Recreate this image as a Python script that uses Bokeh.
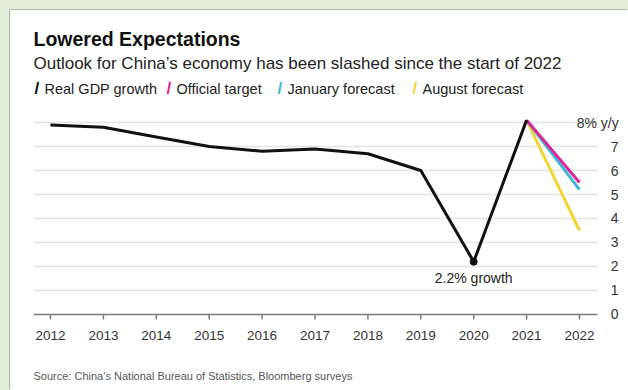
from bokeh.plotting import figure
from bokeh.models import Label, Range1d
from bokeh.core.properties import value
from bokeh.embed import file_html
from bokeh.resources import INLINE

# ---- data ----
years = [2012, 2013, 2014, 2015, 2016, 2017, 2018, 2019, 2020, 2021]
real_gdp = [7.9, 7.8, 7.4, 7.0, 6.8, 6.9, 6.7, 6.0, 2.2, 8.1]
forecast_years = [2021, 2022]
official_target = [8.1, 5.5]
january_forecast = [8.1, 5.2]
august_forecast = [8.1, 3.5]
x_ticks = [2012, 2013, 2014, 2015, 2016, 2017, 2018, 2019, 2020, 2021, 2022]
x_tick_labels = ["2012", "2013", "2014", "2015", "2016", "2017", "2018", "2019", "2020", "2021", "2022"]
y_ticks = [0, 1, 2, 3, 4, 5, 6, 7, 8]
y_tick_labels = ["0", "1", "2", "3", "4", "5", "6", "7", "8% y/y"]
annot_year = 2020
annot_value = 2.2
annot_text = "2.2% growth"

FONT = "Liberation Sans"
BLACK = "#111111"
PINK = "#de2596"
CYAN = "#3db5dc"
YELLOW = "#f0d535"

# figure occupies page x 10..628, y 10..390; frame = whole figure
W, H = 618, 380
PAGE_X0, PAGE_Y_BOTTOM = 10, 390
p = figure(width=W, height=H, output_backend="svg", toolbar_location=None,
           x_range=Range1d(2011.244, 2022.926), y_range=Range1d(-3.1667, 12.6667),
           x_axis_location=None, y_axis_location=None,
           min_border=0, outline_line_color=None, background_fill_color="white",
           border_fill_color="white", margin=(10, 0, 0, 10),
           styles={"box-shadow": "-1px -1px 0 #b3bcae"})
p.xgrid.visible = False
p.ygrid.visible = False

gx0, gx1 = 2011.68, 2022.34
n = len(y_ticks) - 1
# gridlines
p.segment(x0=[gx0] * n, y0=y_ticks[1:], x1=[gx1] * n, y1=y_ticks[1:],
          line_color="#e3e3e3", line_width=1.5)
# baseline (x axis)
p.segment(x0=[gx0], y0=[y_ticks[0]], x1=[gx1], y1=[y_ticks[0]], line_color="#7a7a7a", line_width=1.5)
# x ticks
p.segment(x0=x_ticks, y0=[0] * len(x_ticks), x1=x_ticks, y1=[-0.21] * len(x_ticks),
          line_color="#7a7a7a", line_width=1.5)
# x tick labels
p.text(x=x_ticks, y=[0] * len(x_ticks), text=x_tick_labels, text_align="center",
       text_baseline="middle", y_offset=21, text_font=value(FONT), text_font_size="13.5px",
       text_color="#333333")
# right-side y tick labels
p.text(x=[2022.74] * len(y_ticks), y=y_ticks, text=y_tick_labels, text_align="right",
       text_baseline="middle", text_font=value(FONT), text_font_size="14px", text_color="#333333")

# lines
p.line(forecast_years, august_forecast, line_color=YELLOW, line_width=3)
p.line(forecast_years, january_forecast, line_color=CYAN, line_width=3)
p.line(forecast_years, official_target, line_color=PINK, line_width=3)
p.line(years, real_gdp, line_color=BLACK, line_width=3, line_join="round")
p.scatter([annot_year], [annot_value], size=7, color=BLACK)
p.text(x=[annot_year], y=[annot_value], text=[annot_text], text_align="center",
       text_baseline="middle", y_offset=16, text_font=value(FONT), text_font_size="14px",
       text_color="#222222")


def lab(x, y, text, size, color="#222222", bold=False):
    # x, y in page pixels; screen units are relative to the frame (= whole figure)
    p.add_layout(Label(x=x - PAGE_X0, y=PAGE_Y_BOTTOM - y, x_units="screen", y_units="screen",
                       text=text, text_font=FONT, text_font_size=size, text_color=color,
                       text_font_style="bold" if bold else "normal",
                       text_baseline="middle", text_align="left"))


lab(33, 38, "Lowered Expectations", "19.5px", "#111111", bold=True)
lab(33, 63, "Outlook for China\u2019s economy has been slashed since the start of 2022", "17px", "#222222")
legend_items = [("Real GDP growth", BLACK, 34), ("Official target", PINK, 166),
                ("January forecast", CYAN, 277), ("August forecast", YELLOW, 412)]
for name, col, lx in legend_items:
    lab(lx, 88, "/", "17px", col, bold=True)
    lab(lx + 10, 88, name, "14.5px", "#222222")
lab(33, 375, "Source: China\u2019s National Bureau of Statistics, Bloomberg surveys", "11px", "#555555")

html = file_html(p, INLINE)
html = html.replace("</head>", "<style>body{background:#e2eed9;margin:0;}</style></head>", 1)
open("out.html", "w").write(html)
